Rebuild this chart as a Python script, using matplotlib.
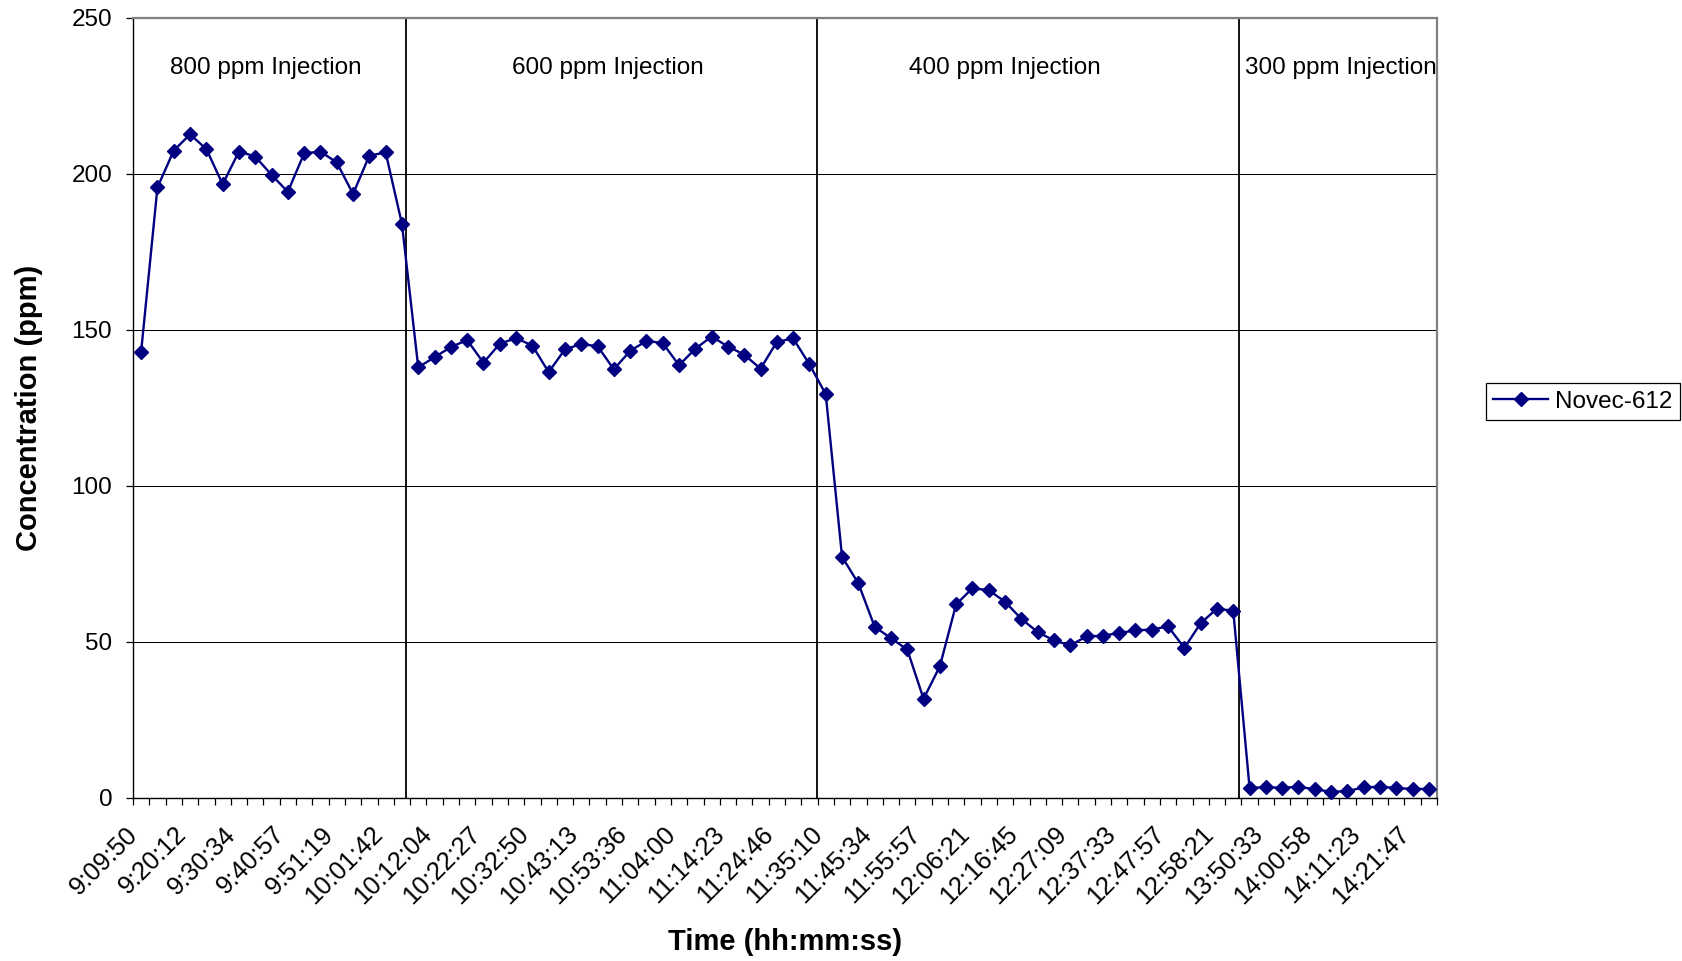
import matplotlib
matplotlib.use("Agg")
import matplotlib.pyplot as plt
import numpy as np
from matplotlib.transforms import ScaledTranslation

# ---------------- data ----------------
tick_labels = ["9:09:50", "9:20:12", "9:30:34", "9:40:57", "9:51:19", "10:01:42",
               "10:12:04", "10:22:27", "10:32:50", "10:43:13", "10:53:36", "11:04:00",
               "11:14:23", "11:24:46", "11:35:10", "11:45:34", "11:55:57", "12:06:21",
               "12:16:45", "12:27:09", "12:37:33", "12:47:57", "12:58:21", "13:50:33",
               "14:00:58", "14:11:23", "14:21:47"]
label_step = 3

novec_800 = [143.1, 195.7, 207.5, 212.7, 208.0, 196.7, 207.2, 205.6, 199.7, 194.3,
             206.6, 207.2, 203.7, 193.6, 205.9, 206.9, 184.0]
novec_600 = [138.0, 141.3, 144.5, 146.8, 139.5, 145.6, 147.4, 145.0, 136.5, 143.8,
             145.5, 144.8, 137.4, 143.3, 146.5, 145.8, 138.7, 144.0, 147.9, 144.7,
             142.1, 137.6, 146.2, 147.3, 139.0]
novec_400 = [129.4, 77.3, 68.8, 54.9, 51.2, 47.6, 31.8, 42.2, 62.1, 67.2,
             66.6, 62.9, 57.4, 53.2, 50.5, 48.9, 51.8, 52.0, 52.9, 53.7,
             54.0, 55.0, 48.1, 56.0, 60.7, 60.0]
novec_300 = [3.3, 3.4, 3.3, 3.6, 2.8, 2.0, 2.2, 3.4, 3.6, 3.2, 2.9, 2.9]

series_name = "Novec-612"
section_names = ["800 ppm Injection", "600 ppm Injection", "400 ppm Injection", "300 ppm Injection"]
injection_boundaries = [16.26, 41.45, 67.37]   # in category units
y_ticks = [0, 50, 100, 150, 200, 250]

values = novec_800 + novec_600 + novec_400 + novec_300
n = len(values)
x = np.arange(n)

# ---------------- style ----------------
plt.rcParams['font.family'] = ['Liberation Sans', 'DejaVu Sans']
FS = 17.5
W, H = 1682, 961
fig = plt.figure(figsize=(W / 100, H / 100), dpi=100)
ax = fig.add_axes([133 / W, 1 - 798 / H, 1304 / W, 780 / H])

ax.set_xlim(-0.5, n - 0.5)
ax.set_ylim(0, 250)

# gridlines
ax.set_yticks(y_ticks)
ax.yaxis.grid(True, color='black', linewidth=0.75)
ax.set_axisbelow(True)

# vertical injection lines
for b in injection_boundaries:
    ax.axvline(b, color='black', linewidth=1.3, zorder=2)

# data
ax.plot(x, values, color='#000080', linewidth=1.7, marker='D', markersize=7.3,
        markerfacecolor='#000080', markeredgecolor='#000080', label=series_name, zorder=3,
        clip_on=False)

# spines
for s in ['left', 'bottom']:
    ax.spines[s].set_color('black')
    ax.spines[s].set_linewidth(1.0)
for s in ['top', 'right']:
    ax.spines[s].set_color('#808080')
    ax.spines[s].set_linewidth(1.6)

# y ticks
ax.tick_params(axis='y', direction='out', length=5, width=0.9, pad=10, labelsize=FS, colors='black')

# x ticks: labels every 3 categories, tick marks at category boundaries
ax.set_xticks(x[::label_step])
ax.set_xticklabels(tick_labels, rotation=45, ha='right', va='center', rotation_mode='anchor')
ax.set_xticks(np.arange(n + 1) - 0.5, minor=True)
ax.tick_params(axis='x', which='major', length=0, pad=23.5, labelsize=18.3)
ax.tick_params(axis='x', which='minor', direction='out', length=4.8, width=0.9, color='black')
off = ScaledTranslation(-7 / 100, 0, fig.dpi_scale_trans)
for lab in ax.get_xticklabels():
    lab.set_transform(lab.get_transform() + off)

# axis titles
ax.set_xlabel("Time (hh:mm:ss)", fontsize=21, fontweight='bold', va='top')
ax.xaxis.set_label_coords(0.5, -(928 - 798) / 780)
ax.set_ylabel("Concentration (ppm)", fontsize=21, fontweight='bold')
ax.yaxis.set_label_coords(-(133 - 43) / 1304, 0.5)

# section annotations
ax.text(7.66, 234, section_names[0], ha='center', va='center', fontsize=FS)
ax.text(28.64, 234, section_names[1], ha='center', va='center', fontsize=FS)
ax.text(53.0, 234, section_names[2], ha='center', va='center', fontsize=FS)
ax.text(67.7, 234, section_names[3], ha='left', va='center', fontsize=FS)

# legend
leg = fig.legend(loc='center left', bbox_to_anchor=(1486 / W, 1 - 401.5 / H),
                 fontsize=FS, frameon=True, fancybox=False, edgecolor='black',
                 framealpha=1, borderpad=0.3, handlelength=2.25, handletextpad=0.3,
                 borderaxespad=0)
leg.get_frame().set_linewidth(0.9)

fig.savefig("out.png", dpi=100, facecolor='white')
